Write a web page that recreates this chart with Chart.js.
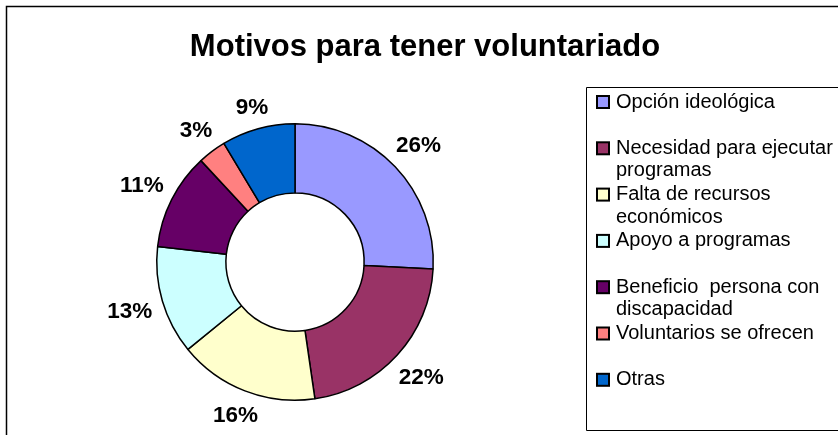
<!DOCTYPE html>
<html>
<head>
<meta charset="utf-8">
<script src="https://cdn.jsdelivr.net/npm/chart.js@4/dist/chart.umd.min.js"></script>
<style>
  html, body { margin: 0; padding: 0; background: #fff; }
  #wrap { width: 838px; height: 435px; }
</style>
</head>
<body>
<div id="wrap"><canvas id="c" width="838" height="435"></canvas></div>
<script>
const titleText = 'Motivos para tener voluntariado';
const categories = [
  'Opción ideológica',
  'Necesidad para ejecutar programas',
  'Falta de recursos económicos',
  'Apoyo a programas',
  'Beneficio  persona con discapacidad',
  'Voluntarios se ofrecen',
  'Otras'
];
const values = [25.8, 21.9, 16.4, 12.7, 11.3, 3.3, 8.6];
const colors = ['#9999FF', '#993366', '#FFFFCC', '#CCFFFF', '#660066', '#FF8080', '#0066CC'];

const FONT = '"Liberation Sans", Arial, sans-serif';

function wrapText(ctx, text, maxW) {
  const words = text.split(' ');
  const lines = [];
  let cur = '';
  for (let i = 0; i < words.length; i++) {
    const w = words[i];
    const test = cur === '' ? w : cur + ' ' + w;
    if (cur !== '' && w !== '' && ctx.measureText(test).width > maxW) {
      lines.push(cur);
      cur = w;
    } else {
      cur = test;
    }
  }
  if (cur !== '') lines.push(cur);
  return lines;
}

const decor = {
  id: 'decor',
  beforeDraw(chart) {
    const ctx = chart.ctx;
    ctx.save();
    ctx.fillStyle = '#fff';
    ctx.fillRect(0, 0, chart.width, chart.height);
    // outer frame
    ctx.strokeStyle = '#000';
    ctx.lineWidth = 1.5;
    ctx.beginPath();
    ctx.moveTo(6.5, chart.height + 2);
    ctx.lineTo(6.5, 6.5);
    ctx.lineTo(chart.width + 2, 6.5);
    ctx.stroke();
    ctx.restore();
  },
  afterDraw(chart) {
    const ctx = chart.ctx;
    ctx.save();
    // title
    ctx.fillStyle = '#000';
    ctx.font = 'bold 31px ' + FONT;
    ctx.textAlign = 'center';
    ctx.textBaseline = 'alphabetic';
    ctx.fillText(titleText, 425, 56);

    // data labels
    const meta = chart.getDatasetMeta(0);
    const ds = chart.data.datasets[0].data;
    const total = ds.reduce((a, b) => a + b, 0);
    ctx.font = 'bold 22.5px ' + FONT;
    ctx.textBaseline = 'middle';
    ctx.textAlign = 'center';
    meta.data.forEach((arc, i) => {
      const p = arc.getProps(['x', 'y', 'startAngle', 'endAngle', 'outerRadius'], true);
      const mid = (p.startAngle + p.endAngle) / 2;
      const cx = Math.cos(mid), cy = Math.sin(mid);
      const txt = Math.round(ds[i] / total * 100) + '%';
      const w = ctx.measureText(txt).width;
      const h = 17;
      const D = p.outerRadius + 10 + (w / 2) * Math.abs(cx) + (h / 2) * Math.abs(cy);
      ctx.fillText(txt, p.x + D * cx, p.y + D * cy + 1);
    });

    // legend box
    ctx.strokeStyle = '#000';
    ctx.lineWidth = 1;
    ctx.beginPath();
    ctx.moveTo(chart.width + 2, 87.5);
    ctx.lineTo(586.5, 87.5);
    ctx.lineTo(586.5, 430.5);
    ctx.lineTo(chart.width + 2, 430.5);
    ctx.stroke();

    ctx.font = '20px ' + FONT;
    ctx.textAlign = 'left';
    ctx.textBaseline = 'middle';
    const labels = chart.data.labels;
    labels.forEach((lab, i) => {
      const y0 = 102 + 46.3 * i;
      // swatch
      ctx.fillStyle = colors[i];
      ctx.fillRect(597, y0 - 6, 12, 12);
      ctx.strokeStyle = '#000';
      ctx.lineWidth = 2;
      ctx.strokeRect(597, y0 - 6, 12, 12);
      ctx.fillStyle = '#000';
      const lines = wrapText(ctx, lab, 222);
      lines.forEach((ln, j) => {
        ctx.fillText(ln, 616, y0 + j * 22.5);
      });
    });
    ctx.restore();
  }
};

new Chart(document.getElementById('c'), {
  type: 'doughnut',
  data: {
    labels: categories,
    datasets: [{
      data: values,
      backgroundColor: colors,
      borderColor: '#000',
      borderWidth: 1.5,
      hoverOffset: 0
    }]
  },
  options: {
    responsive: false,
    animation: false,
    cutout: '50%',
    rotation: 0,
    layout: { padding: { left: 156, top: 123, right: 404, bottom: 34 } },
    plugins: {
      legend: { display: false },
      title: { display: false },
      tooltip: { enabled: false }
    }
  },
  plugins: [decor]
});
</script>
</body>
</html>
